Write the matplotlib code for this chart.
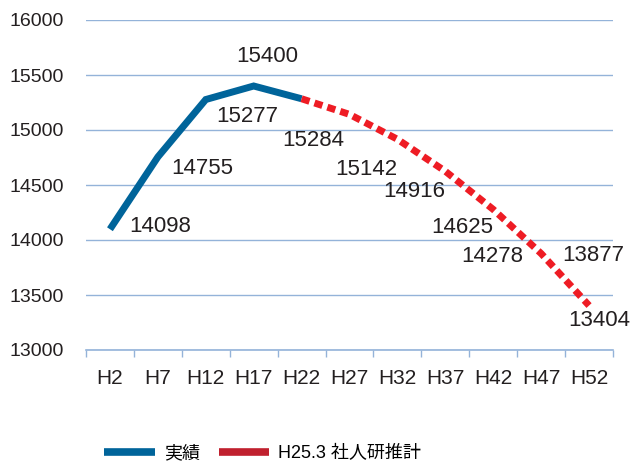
import numpy as np
import matplotlib.pyplot as plt
from matplotlib.lines import Line2D

plt.rcParams['font.family'] = ['Liberation Sans', 'Noto Sans CJK JP', 'DejaVu Sans']

# データ
years = ['H2', 'H7', 'H12', 'H17', 'H22', 'H27', 'H32', 'H37', 'H42', 'H47', 'H52']
actual = [14098, 14755, 15277, 15400, 15284]
forecast = [15284, 15142, 14916, 14625, 14278, 13877, 13404]
label_vals = [14098, 14755, 15277, 15400, 15284, 15142, 14916, 14625, 14278, 13877, 13404]
# ラベルのずらし量 (pixels)
label_off = [(50, 3), (44, -12), (41, -17), (14, 29), (12, -42), (17, -55),
             (17, -52), (17, -56), (-1, -47), (52, -2), (10, -15)]

grid_c = '#94b3d9'
text_c = '#231f20'

fig = plt.figure(figsize=(6.32, 4.66), dpi=100)
ax = fig.add_axes([86 / 632, 116 / 466, 527 / 632, 330 / 466])

x = np.arange(len(years))
ax.plot(x[:len(actual)], actual, color='#00649a', lw=5, solid_capstyle='butt',
        solid_joinstyle='miter')
ax.plot(x[len(actual) - 1:], forecast, color='#ee1c24', lw=5,
        linestyle=(0, (1.2, 0.75)), dash_capstyle='butt')

for i, v in enumerate(label_vals):
    ax.annotate(str(v), (x[i], v), xytext=label_off[i], textcoords='offset pixels',
                ha='center', va='center', fontsize=16, color=text_c)

ax.set_xlim(-0.5, len(years) - 0.5)
ax.set_ylim(13000, 16000)
ax.set_yticks(np.arange(13000, 16001, 500))
ax.yaxis.grid(True, color=grid_c, lw=1)
ax.set_axisbelow(True)
for s in ['left', 'right', 'top']:
    ax.spines[s].set_visible(False)
ax.spines['bottom'].set_color(grid_c)
ax.spines['bottom'].set_linewidth(1.2)

ax.set_xticks(x)
ax.set_xticklabels(years, family=['Liberation Sans Narrow', 'Liberation Sans'],
                   fontsize=15, color=text_c)
ax.set_xticks(np.arange(-0.5, len(years), 1), minor=True)
ax.tick_params(axis='x', which='major', length=0, pad=14)
ax.tick_params(axis='x', which='minor', length=5, color=grid_c, width=1, direction='out')
ax.tick_params(axis='y', length=0, pad=16, labelsize=14, labelcolor=text_c)

handles = [Line2D([], [], color='#00649a', lw=5.5, solid_capstyle='butt'),
           Line2D([], [], color='#c0202e', lw=5.5, solid_capstyle='butt')]
fig.legend(handles, ['実績', 'H25.3 社人研推計'], loc='center left',
           bbox_to_anchor=(97 / 632, 12 / 466), ncol=2, frameon=False,
           prop={'family': ['Liberation Sans', 'Noto Sans CJK JP'], 'size': 13},
           handlelength=2.8, handletextpad=0.5, columnspacing=1.05,
           borderaxespad=0)

fig.savefig('out.png', dpi=100)
